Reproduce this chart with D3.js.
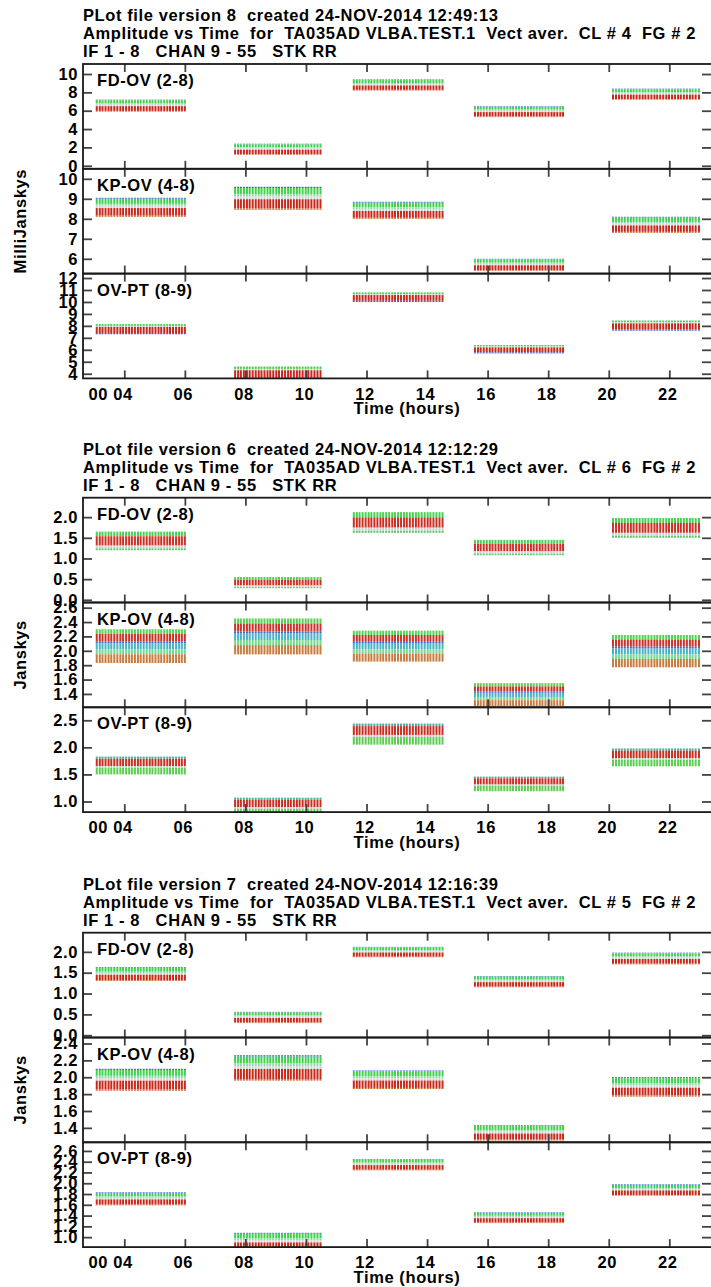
<!DOCTYPE html>
<html>
<head>
<meta charset="utf-8">
<script src="https://cdn.jsdelivr.net/npm/d3@7"></script>
<style>
body { margin: 0; background: #fff; }
svg text { font-family: "Liberation Sans", Arial, sans-serif; font-weight: bold; font-size: 16.5px; letter-spacing: 0.6px; fill: #000; white-space: pre; }
</style>
</head>
<body>
<script>
// sample times (hours) of the five scans, shared by every baseline
var scanTimes = [
	[3.09,3.19,3.28,3.38,3.48,3.57,3.67,3.77,3.87,3.96,4.06,4.16,4.25,4.35,4.45,4.54,4.64,4.74,4.84,4.93,5.03,5.13,5.22,5.32,5.42,5.51,5.61,5.71,5.81,5.90,6.00],
	[7.66,7.76,7.85,7.95,8.05,8.14,8.24,8.34,8.44,8.53,8.63,8.73,8.82,8.92,9.02,9.11,9.21,9.31,9.41,9.50,9.60,9.70,9.79,9.89,9.99,10.08,10.18,10.28,10.38,10.48],
	[11.58,11.68,11.77,11.87,11.97,12.07,12.16,12.26,12.36,12.46,12.55,12.65,12.75,12.85,12.94,13.04,13.14,13.24,13.33,13.43,13.53,13.63,13.72,13.82,13.92,14.02,14.11,14.21,14.31,14.41,14.51],
	[15.58,15.68,15.77,15.87,15.97,16.07,16.16,16.26,16.36,16.45,16.55,16.65,16.75,16.84,16.94,17.04,17.13,17.23,17.33,17.43,17.52,17.62,17.72,17.81,17.91,18.01,18.11,18.20,18.30,18.40,18.49],
	[20.14,20.24,20.34,20.43,20.53,20.63,20.73,20.82,20.92,21.02,21.12,21.21,21.31,21.41,21.51,21.60,21.70,21.80,21.90,21.99,22.09,22.19,22.29,22.38,22.48,22.58,22.68,22.77,22.87,22.98]
];

var hourTicks = [4, 6, 8, 10, 12, 14, 16, 18, 20, 22];
var hourLabels = ['04', '06', '08', '10', '12', '14', '16', '18', '20', '22'];
var dayLabel = '00';
var baselines = ['FD-OV (2-8)', 'KP-OV (4-8)', 'OV-PT (8-9)'];

var titles8 = ['PLot file version 8  created 24-NOV-2014 12:49:13', 'Amplitude vs Time  for  TA035AD VLBA.TEST.1  Vect aver.  CL # 4  FG # 2', 'IF 1 - 8   CHAN 9 - 55   STK RR'];
var titles6 = ['PLot file version 6  created 24-NOV-2014 12:12:29', 'Amplitude vs Time  for  TA035AD VLBA.TEST.1  Vect aver.  CL # 6  FG # 2', 'IF 1 - 8   CHAN 9 - 55   STK RR'];
var titles7 = ['PLot file version 7  created 24-NOV-2014 12:16:39', 'Amplitude vs Time  for  TA035AD VLBA.TEST.1  Vect aver.  CL # 5  FG # 2', 'IF 1 - 8   CHAN 9 - 55   STK RR'];

// amplitude [top, bottom] of each scan's bars
var v8FdOv = [[7.2, 5.9], [2.4, 1.2], [9.4, 8.2], [6.5, 5.3], [8.4, 7.2]];
var v8KpOv = [[9.05, 8.1], [9.6, 8.45], [8.85, 8.0], [6.0, 5.4], [8.1, 7.3]];
var v8OvPt = [[8.15, 7.3], [4.6, 3.5], [10.8, 10.0], [6.4, 5.7], [8.45, 7.6]];
var v6FdOv = [[1.65, 1.2], [0.55, 0.28], [2.12, 1.62], [1.45, 1.08], [1.98, 1.5]];
var v6KpOv = [[2.3, 1.83], [2.45, 1.95], [2.28, 1.85], [1.55, 1.23], [2.22, 1.77]];
var v6OvPt = [[1.83, 1.5], [1.07, 0.75], [2.44, 2.05], [1.46, 1.19], [1.98, 1.65]];
var v7FdOv = [[1.63, 1.3], [0.56, 0.29], [2.12, 1.87], [1.42, 1.15], [1.98, 1.7]];
var v7KpOv = [[2.1, 1.84], [2.26, 1.96], [2.08, 1.86], [1.43, 1.25], [2.0, 1.77]];
var v7OvPt = [[1.83, 1.59], [1.08, 0.75], [2.45, 2.24], [1.46, 1.26], [1.98, 1.77]];

// y axis ticks per panel
var ticks8FdOv = [0, 2, 4, 6, 8, 10];
var ticks8KpOv = [6, 7, 8, 9, 10];
var ticks8OvPt = [4, 5, 6, 7, 8, 9, 10, 11, 12];
var ticks6FdOv = [0, 0.5, 1.0, 1.5, 2.0];
var ticks6KpOv = [1.4, 1.6, 1.8, 2.0, 2.2, 2.4, 2.6];
var ticks6OvPt = [1.0, 1.5, 2.0, 2.5];
var ticks7FdOv = [0, 0.5, 1.0, 1.5, 2.0];
var ticks7KpOv = [1.4, 1.6, 1.8, 2.0, 2.2, 2.4];
var ticks7OvPt = [1.0, 1.2, 1.4, 1.6, 1.8, 2.0, 2.2, 2.4, 2.6];

// colour bands of a bar, top to bottom (fractions of bar height)
var bandStd = [['#2f4fe0', 0.05], ['#3fd24a', 0.27], ['#8fd9b0', 0.1], ['#d4d4d4', 0.12], ['#c9281c', 0.4], ['#cc6a2c', 0.06]];
var bandKp6 = [['#52d452', 0.14], ['#cc3326', 0.22], ['#3a62d8', 0.06], ['#49b3c4', 0.18], ['#74d890', 0.14], ['#c87c40', 0.26]];
var bandOv6 = [['#3cb4a0', 0.12], ['#cc2f22', 0.42], ['#c8c8c8', 0.1], ['#5ccd52', 0.36]];
var bandFd6 = [['#48d050', 0.25], ['#cd3024', 0.5], ['#cfcfcf', 0.15], ['#5cc86a', 0.1]];
var bandOv8 = [['#44d04c', 0.18], ['#d0d0d0', 0.1], ['#c9281c', 0.6], ['#3a5ad8', 0.12]];

var plots = [
	{ top: 64, titles: titles8, ylabel: 'MilliJanskys', fmt: d3.format('d'), panels: [
		{ data: v8FdOv, dom: [-0.33, 11.09], ticks: ticks8FdOv, bands: bandStd },
		{ data: v8KpOv, dom: [5.26, 10.5], ticks: ticks8KpOv, bands: bandStd },
		{ data: v8OvPt, dom: [3.61, 12.37], ticks: ticks8OvPt, bands: bandOv8 } ] },
	{ top: 497.7, titles: titles6, ylabel: 'Janskys', fmt: d3.format('.1f'), panels: [
		{ data: v6FdOv, dom: [-0.065, 2.47], ticks: ticks6FdOv, bands: bandFd6 },
		{ data: v6KpOv, dom: [1.214, 2.672], ticks: ticks6KpOv, bands: bandKp6 },
		{ data: v6OvPt, dom: [0.804, 2.74], ticks: ticks6OvPt, bands: bandOv6 } ] },
	{ top: 932.7, titles: titles7, ylabel: 'Janskys', fmt: d3.format('.1f'), panels: [
		{ data: v7FdOv, dom: [-0.055, 2.46], ticks: ticks7FdOv, bands: bandStd },
		{ data: v7KpOv, dom: [1.229, 2.471], ticks: ticks7KpOv, bands: bandStd },
		{ data: v7OvPt, dom: [0.815, 2.76], ticks: ticks7OvPt, bands: bandStd } ] }
];

var W = 711, H = 1287;
var left = 83, right = 712, panelH = 104.8;

var svg = d3.select('body').append('svg')
	.attr('width', W)
	.attr('height', H);

var x = d3.scaleLinear().domain([2.636, 23.41]).range([left, right]);

function styleTicks(g) {
	g.select('.domain').remove();
	g.selectAll('.tick line').attr('stroke', '#444').attr('stroke-width', 1.8);
	g.selectAll('text').attr('font-size', null).attr('font-family', null);
}

plots.forEach(function(plot, pi) {
	var g = svg.append('g');

	g.selectAll('.title')
		.data(plot.titles).enter()
		.append('text')
		.attr('x', left)
		.attr('y', function(d, i) { return plot.top - 43 + i * 18; })
		.text(function(d) { return d; });

	plot.panels.forEach(function(panel, k) {
		var y0 = plot.top + k * panelH;
		var y1 = y0 + panelH;
		var y = d3.scaleLinear().domain(panel.dom).range([y1, y0]);
		var clipId = 'clip' + pi + '_' + k;

		g.append('clipPath').attr('id', clipId)
			.append('rect')
			.attr('x', left).attr('y', y0)
			.attr('width', right - left).attr('height', panelH);

		var bars = [];
		panel.data.forEach(function(v, s) {
			scanTimes[s].forEach(function(t) {
				bars.push({ t: t, hi: v[0], lo: v[1] });
			});
		});

		var pg = g.append('g').attr('clip-path', 'url(#' + clipId + ')');
		var cum = 0;
		panel.bands.forEach(function(b) {
			var f0 = cum, f1 = cum + b[1];
			cum = f1;
			pg.append('g').selectAll('rect')
				.data(bars).enter()
				.append('rect')
				.attr('x', function(d) { return x(d.t) - 1; })
				.attr('width', 2)
				.attr('y', function(d) { return y(d.hi - (d.hi - d.lo) * f0); })
				.attr('height', function(d) { return Math.max(0.5, y(d.hi - (d.hi - d.lo) * f1) - y(d.hi - (d.hi - d.lo) * f0)); })
				.attr('fill', b[0]);
		});

		// inward ticks on all four sides
		g.append('g')
			.attr('transform', 'translate(' + left + ',0)')
			.call(d3.axisLeft(y).tickValues(panel.ticks).tickSize(-9).tickPadding(5).tickFormat(plot.fmt))
			.call(styleTicks);
		g.append('g')
			.attr('transform', 'translate(' + (right - 1) + ',0)')
			.call(d3.axisRight(y).tickValues(panel.ticks).tickSize(-9).tickFormat(''))
			.call(styleTicks);
		g.append('g')
			.attr('transform', 'translate(0,' + y0 + ')')
			.call(d3.axisTop(x).tickValues(hourTicks).tickSize(-8).tickFormat(''))
			.call(styleTicks);
		var bottomAxis = g.append('g')
			.attr('transform', 'translate(0,' + y1 + ')')
			.call(d3.axisBottom(x).tickValues(hourTicks).tickSize(-8).tickPadding(8)
				.tickFormat(function(d, i) { return k === 2 ? hourLabels[i] : ''; }))
			.call(styleTicks);
		if (k === 2) {
			bottomAxis.selectAll('text').attr('dx', -2).attr('dy', '0.8em');
			bottomAxis.select('.tick text')
				.attr('text-anchor', 'end')
				.attr('dx', 8)
				.text(dayLabel + ' ' + hourLabels[0]);
		}

		g.append('rect')
			.attr('x', left).attr('y', y0)
			.attr('width', right - left).attr('height', panelH)
			.attr('fill', 'none')
			.attr('stroke', '#1a1a1a')
			.attr('stroke-width', 1.8);

		g.append('text')
			.attr('x', left + 14)
			.attr('y', y0 + 22)
			.text(baselines[k]);
	});

	var bottom = plot.top + 3 * panelH;
	g.append('text')
		.attr('x', 407)
		.attr('y', bottom + 35.5)
		.attr('text-anchor', 'middle')
		.text('Time (hours)');

	g.append('text')
		.attr('transform', 'translate(26,' + (plot.top + 1.5 * panelH) + ') rotate(-90)')
		.attr('text-anchor', 'middle')
		.text(plot.ylabel);
});
</script>
</body>
</html>
